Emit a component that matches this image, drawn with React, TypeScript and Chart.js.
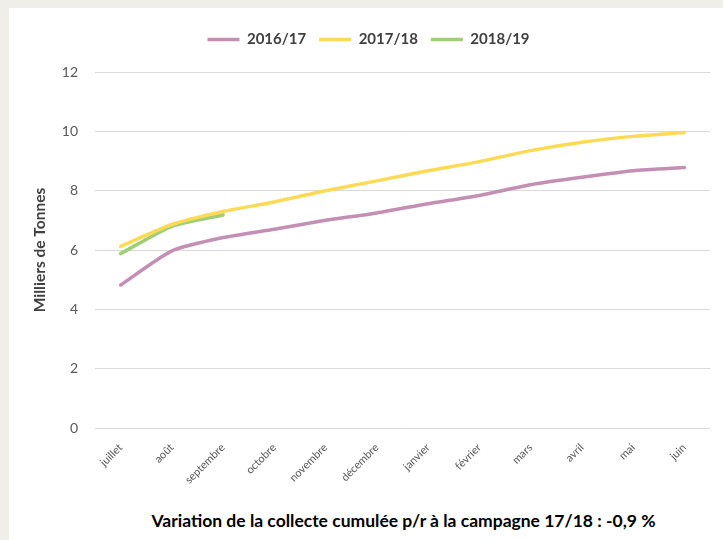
import React, { useEffect, useRef } from "react";
import { Chart, registerables } from "chart.js";

Chart.register(...registerables);

const months = ["juillet", "août", "septembre", "octobre", "novembre", "décembre", "janvier", "février", "mars", "avril", "mai", "juin"];
const s2016 = [4.82, 5.97, 6.42, 6.7, 7.0, 7.25, 7.56, 7.84, 8.2, 8.45, 8.67, 8.78];
const s2017 = [6.12, 6.86, 7.3, 7.62, 8.0, 8.33, 8.67, 8.98, 9.35, 9.63, 9.83, 9.96];
const s2018 = [5.88, 6.8, 7.18];
const yTicks = [0, 2, 4, 6, 8, 10, 12];
const FONT = "Lato, 'Open Sans', sans-serif";

const legendHeight = {
  id: "legendHeight",
  beforeInit(chart: any) {
    const orig = chart.legend.fit;
    chart.legend.fit = function () {
      orig.call(this);
      this.height = 53;
    };
  },
};

export default function App() {
  const ref = useRef<HTMLCanvasElement | null>(null);
  useEffect(() => {
    if (!ref.current) return;
    const chart = new Chart(ref.current, {
      type: "line",
      plugins: [legendHeight],
      data: {
        labels: months,
        datasets: [
          { label: "2016/17", data: s2016, borderColor: "#C38FB4", backgroundColor: "#C38FB4", borderWidth: 3.5, pointRadius: 0, tension: 0.2, borderCapStyle: "round" },
          { label: "2017/18", data: s2017, borderColor: "#FCDA55", backgroundColor: "#FCDA55", borderWidth: 3.5, pointRadius: 0, tension: 0.2, borderCapStyle: "round" },
          { label: "2018/19", data: s2018, borderColor: "#9FCE76", backgroundColor: "#9FCE76", borderWidth: 3.5, pointRadius: 0, tension: 0.2, borderCapStyle: "round" },
        ],
      },
      options: {
        animation: false,
        responsive: false,
        maintainAspectRatio: false,
        layout: { padding: { left: 18, right: 13, top: 11, bottom: 0 } },
        plugins: {
          tooltip: { enabled: false },
          legend: {
            position: "top",
            labels: {
              usePointStyle: true,
              pointStyle: "line",
              boxWidth: 19,
              boxHeight: 14,
              pointStyleWidth: 32,
              padding: 13,
              color: "#404040",
              font: { family: FONT, size: 15, weight: "bold" },
            },
          },
        },
        scales: {
          x: {
            offset: true,
            grid: { display: false },
            border: { display: false },
            ticks: {
              autoSkip: false,
              maxRotation: 45,
              minRotation: 45,
              padding: 5,
              color: "#595959",
              font: { family: FONT, size: 11 },
            },
            afterFit: (scale: any) => { scale.height = 80; },
          },
          y: {
            min: 0,
            max: 12,
            afterBuildTicks: (scale: any) => { scale.ticks = yTicks.map((v) => ({ value: v })); },
            grid: { color: "#D9D9D9", lineWidth: 1, drawTicks: false },
            border: { display: false },
            ticks: { padding: 17, color: "#595959", font: { family: FONT, size: 14 } },
            title: {
              display: true,
              text: "Milliers de Tonnes",
              color: "#404040",
              padding: { top: 4, bottom: 4 },
              font: { family: FONT, size: 15.5, weight: "bold" },
            },
            afterFit: (scale: any) => { scale.width = 68; },
          },
        },
      },
    });
    return () => chart.destroy();
  }, []);

  return (
    <div style={{ position: "absolute", left: 0, top: 0, width: 723, height: 540, background: "#EFEEE9", overflow: "hidden" }}>
      <div style={{ position: "absolute", left: 9, top: 8, width: 714, height: 532, background: "#FFFFFF" }}>
        <canvas ref={ref} width={714} height={500} style={{ position: "absolute", left: 0, top: 0, width: 714, height: 500 }} />
        <div style={{ position: "absolute", left: 0, top: 502, width: 789, textAlign: "center", fontFamily: FONT, fontWeight: "bold", fontSize: 17.5, color: "#000000", whiteSpace: "nowrap" }}>
          Variation de la collecte cumulée p/r à la campagne 17/18 : -0,9 %
        </div>
      </div>
    </div>
  );
}
